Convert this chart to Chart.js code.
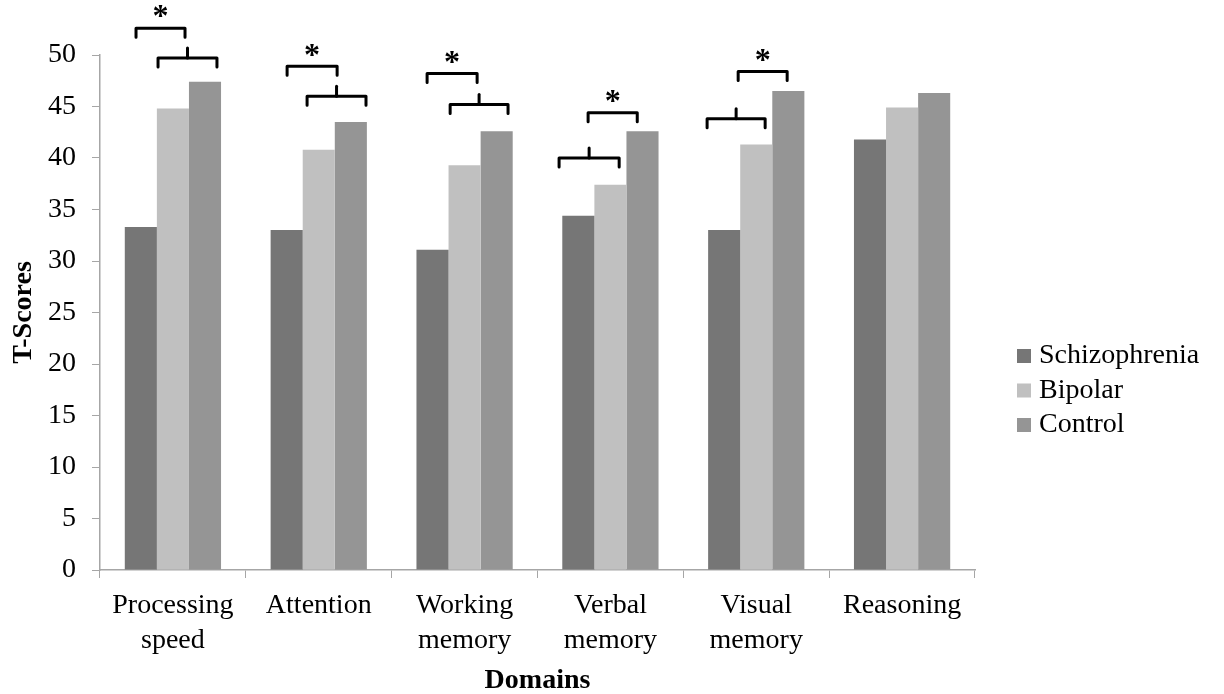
<!DOCTYPE html>
<html>
<head>
<meta charset="utf-8">
<script src="https://cdn.jsdelivr.net/npm/chart.js@4.4.1/dist/chart.umd.min.js"></script>
<style>
  html, body { margin: 0; padding: 0; background: #fff; }
  #chart { display: block; }
</style>
</head>
<body>
<canvas id="chart" width="1224" height="694"></canvas>
<script>
// values
const domains = [['Processing', 'speed'], 'Attention', ['Working', 'memory'], ['Verbal', 'memory'], ['Visual', 'memory'], 'Reasoning']
const schizophrenia = [33.3, 33.0, 31.1, 34.4, 33.0, 41.8]
const bipolar = [44.8, 40.8, 39.3, 37.4, 41.3, 44.9]
const control = [47.4, 43.5, 42.6, 42.6, 46.5, 46.3]
const yTicks = [0, 5, 10, 15, 20, 25, 30, 35, 40, 45, 50]

// significance brackets: domain index, start / end (fraction of a category), height in T-score units, star
const sigDomain = [0, 0, 1, 1, 2, 2, 3, 3, 4, 4]
const sigFrom = [-0.253, -0.102, -0.217, -0.08, -0.257, -0.099, -0.352, -0.153, -0.337, -0.124]
const sigTo = [0.083, 0.302, 0.126, 0.324, 0.086, 0.298, 0.06, 0.184, 0.061, 0.212]
const sigLevel = [52.6, 49.7, 48.9, 46.0, 48.2, 45.2, 40.0, 44.4, 43.8, 48.4]
const sigStar = [true, false, true, false, true, false, false, true, false, true]

const FONT = '"Liberation Serif", "Times New Roman", serif'
const axisGrey = '#a6a6a6'

const extras = {
  id: 'extras',
  afterDraw(chart) {
    const { ctx } = chart
    const x = chart.scales.x
    const y = chart.scales.y
    ctx.save()
    ctx.strokeStyle = '#000'
    ctx.fillStyle = '#000'
    ctx.lineWidth = 3
    ctx.lineJoin = 'round'
    ctx.lineCap = 'round'
    sigDomain.forEach((d, i) => {
      const x1 = x.getPixelForValue(d + sigFrom[i])
      const x2 = x.getPixelForValue(d + sigTo[i])
      const yy = y.getPixelForValue(sigLevel[i])
      ctx.beginPath()
      ctx.moveTo(x1, yy + 9)
      ctx.lineTo(x1, yy)
      ctx.lineTo(x2, yy)
      ctx.lineTo(x2, yy + 9)
      ctx.stroke()
      const mid = (x1 + x2) / 2
      if (sigStar[i]) {
        ctx.font = `bold 32px ${FONT}`
        ctx.textAlign = 'center'
        ctx.textBaseline = 'middle'
        ctx.fillText('*', mid, yy - 10)
      } else {
        ctx.beginPath()
        ctx.moveTo(mid, yy)
        ctx.lineTo(mid, yy - 10)
        ctx.stroke()
      }
    })

    // legend
    ctx.font = `28px ${FONT}`
    ctx.textAlign = 'left'
    ctx.textBaseline = 'middle'
    chart.data.datasets.forEach((ds, i) => {
      const cy = 356 + i * 34.5
      ctx.fillStyle = ds.backgroundColor
      ctx.fillRect(1017, cy - 7, 14, 14)
      ctx.fillStyle = '#000'
      ctx.fillText(ds.label, 1039, cy)
    })
    ctx.restore()
  },
}

new Chart(document.getElementById('chart'), {
  type: 'bar',
  data: {
    labels: domains,
    datasets: [
      { label: 'Schizophrenia', data: schizophrenia, backgroundColor: '#767676' },
      { label: 'Bipolar', data: bipolar, backgroundColor: '#c0c0c0' },
      { label: 'Control', data: control, backgroundColor: '#959595' },
    ],
  },
  options: {
    responsive: false,
    animation: false,
    devicePixelRatio: 1,
    layout: { padding: { top: 55, right: 249, left: 0, bottom: 0 } },
    datasets: { bar: { categoryPercentage: 0.66, barPercentage: 1 } },
    plugins: { legend: { display: false }, tooltip: { enabled: false } },
    scales: {
      x: {
        afterFit(scale) { scale.height = 124 },
        grid: { drawOnChartArea: false, color: axisGrey, tickLength: 8, offset: true },
        border: { color: axisGrey, width: 1.5 },
        ticks: { color: '#000', padding: 10, maxRotation: 0, autoSkip: false, font: { family: FONT, size: 28, lineHeight: 1.25 } },
        title: { display: true, text: 'Domains', color: '#000', padding: { top: 0, bottom: -4 }, font: { family: FONT, size: 28, weight: 'bold' } },
      },
      y: {
        min: 0,
        max: 50,
        afterFit(scale) { scale.width = 100 },
        afterBuildTicks(scale) { scale.ticks = yTicks.map((v) => ({ value: v })) },
        grid: { drawOnChartArea: false, color: axisGrey, tickLength: 8 },
        border: { color: axisGrey, width: 1.5 },
        ticks: { color: '#000', padding: 16, font: { family: FONT, size: 28 } },
        title: { display: true, text: 'T-Scores', color: '#000', padding: { top: 7, bottom: 0 }, font: { family: FONT, size: 28, weight: 'bold' } },
      },
    },
  },
  plugins: [extras],
})
</script>
</body>
</html>
